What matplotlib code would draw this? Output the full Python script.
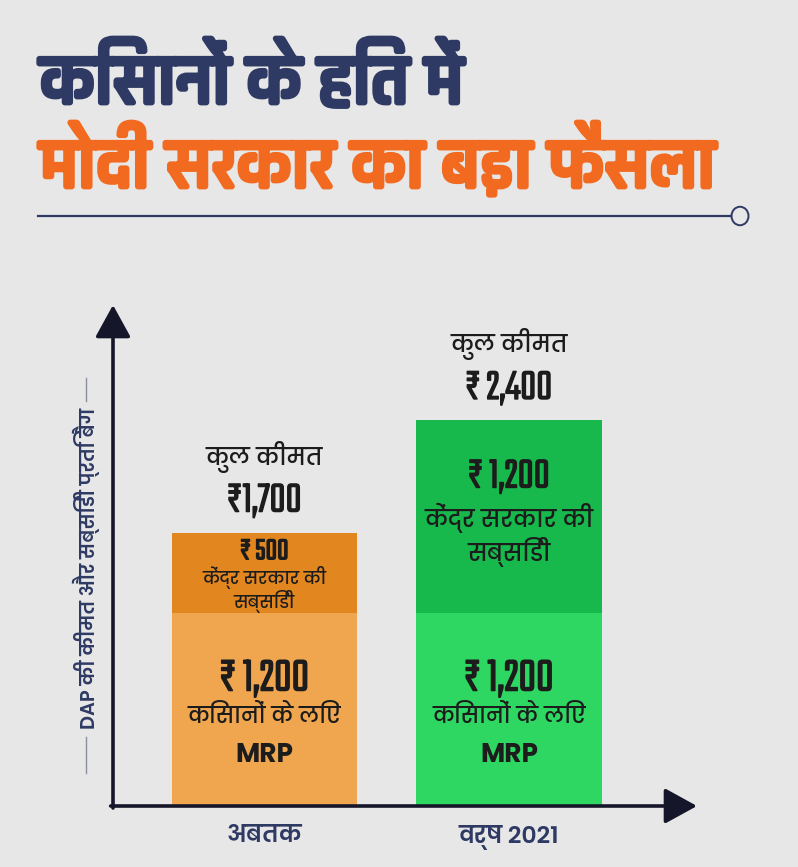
import matplotlib
matplotlib.use("Agg")
import matplotlib.pyplot as plt
import matplotlib.patheffects as pe
from matplotlib.lines import Line2D
from matplotlib.patches import Circle

# ---------------- data ----------------
categories = ["अबतक", "वर्ष 2021"]
mrp = [1200, 1200]
subsidy = [500, 1200]
total_labels = ["₹1,700", "₹ 2,400"]
mrp_labels = ["₹ 1,200", "₹ 1,200"]
subsidy_labels = ["₹ 500", "₹ 1,200"]
mrp_text = ["किसानों के लिए", "MRP"]
subsidy_text = ["केंद्र सरकार की", "सब्सिडी"]
total_text = "कुल कीमत"
title1 = "किसानों के हित में"
title2 = "मोदी सरकार का बड़ा फैसला"
ylabel = "DAP की कीमत और सब्सिडी प्रति बैग"

# ---------------- style ----------------
W, H = 798, 867
BG = "#e7e7e7"
NAVY = "#2e3a63"
ORANGE = "#f26a1f"
AXC = "#16162a"
TXT = "#1c1c1c"
mrp_colors = ["#f0a64e", "#2ed662"]
sub_colors = ["#e2861f", "#17b94c"]
TEKO = ["Teko", "DejaVu Sans"]
RAJ = ["Rajdhani", "DejaVu Sans"]
POP = ["Poppins", "DejaVu Sans"]


def fx(x):
    return x / W


def fy(y):
    return 1 - y / H


def heavy(color, w):
    return [pe.withStroke(linewidth=w, foreground=color)]


fig = plt.figure(figsize=(W / 100, H / 100), dpi=100, facecolor=BG)

# titles
fig.text(fx(40), fy(104), title1, family=RAJ, fontsize=54, fontweight="bold",
         color=NAVY, ha="left", va="baseline", path_effects=heavy(NAVY, 2))
fig.text(fx(40), fy(188), title2, family=RAJ, fontsize=54, fontweight="bold",
         color=ORANGE, ha="left", va="baseline", path_effects=heavy(ORANGE, 2))
fig.add_artist(Line2D([fx(38), fx(731)], [fy(216), fy(216)], color=NAVY, lw=1.6))
fig.add_artist(Circle((fx(740), fy(216)), 8.5 / W, transform=fig.transFigure,
                      facecolor=BG, edgecolor=NAVY, lw=1.4))

# main axes
ax = fig.add_axes([fx(113), fy(806), (697 - 113) / W, (806 - 305) / H])
ax.set_facecolor("none")
ax.set_xlim(-0.6196, 1.769)
ax.set_ylim(0, 3115)
for s in ax.spines.values():
    s.set_visible(False)
ax.set_yticks([])
x = list(range(len(categories)))
bw = 0.757
ax.bar(x, mrp, width=bw, color=mrp_colors, zorder=2)
ax.bar(x, subsidy, width=bw, bottom=mrp, color=sub_colors, zorder=2)
ax.set_xticks(x)
ax.set_xticklabels(categories, family=POP, fontsize=17, fontweight="semibold", color=NAVY)
ax.tick_params(axis="x", length=0, pad=14)

# axis arrows
arw = dict(arrowstyle="-|>,head_length=1.0,head_width=0.55", mutation_scale=20,
           lw=2.6, color=AXC, shrinkA=0, shrinkB=0)
ax.annotate("", xy=(0, 1), xytext=(0, -0.004), xycoords="axes fraction",
            arrowprops=arw, annotation_clip=False, zorder=5)
ax.annotate("", xy=(1, 0), xytext=(-0.004, 0), xycoords="axes fraction",
            arrowprops=arw, annotation_clip=False, zorder=5)

# y label with side rules
fig.text(fx(86), fy(568), ylabel, family=POP, fontsize=14, fontweight="semibold",
         color=NAVY, rotation=90, ha="center", va="center")
fig.add_artist(Line2D([fx(86), fx(86)], [fy(378), fy(401)], color="#8a8f9c", lw=1))
fig.add_artist(Line2D([fx(86), fx(86)], [fy(737), fy(773)], color="#8a8f9c", lw=1))

PX = 72 / 100  # px -> points


def put(i, yv, dy_px, s, fam, size, weight, color=TXT, stroke=0):
    ax.annotate(s, xy=(x[i], yv), xytext=(0, -dy_px * PX), textcoords="offset points",
                ha="center", va="center", family=fam, fontsize=size,
                fontweight=weight, color=color, zorder=4,
                path_effects=heavy(color, stroke) if stroke else None)

sub_num_size = [23, 32]
sub_txt_size = [12.5, 17]
sub_offs = [(-22, 5, 29), (-41, 1, 36)]
for i in x:
    # MRP segment
    c = mrp[i] / 2
    put(i, c, -32, mrp_labels[i], TEKO, 35, "bold", stroke=1.1)
    put(i, c, 8, mrp_text[0], POP, 16, "medium")
    put(i, c, 46, mrp_text[1], POP, 19, "bold")
    # subsidy segment
    c = mrp[i] + subsidy[i] / 2
    o = sub_offs[i]
    put(i, c, o[0], subsidy_labels[i], TEKO, sub_num_size[i], "bold", stroke=1.0)
    put(i, c, o[1], subsidy_text[0], POP, sub_txt_size[i], "medium")
    put(i, c, o[2], subsidy_text[1], POP, sub_txt_size[i], "medium")
    # total
    top = mrp[i] + subsidy[i]
    put(i, top, -76, total_text, POP, 17, "medium")
    put(i, top, -33, total_labels[i], TEKO, 32, "bold", stroke=1.0)

fig.savefig("out.png", dpi=100, facecolor=BG)
